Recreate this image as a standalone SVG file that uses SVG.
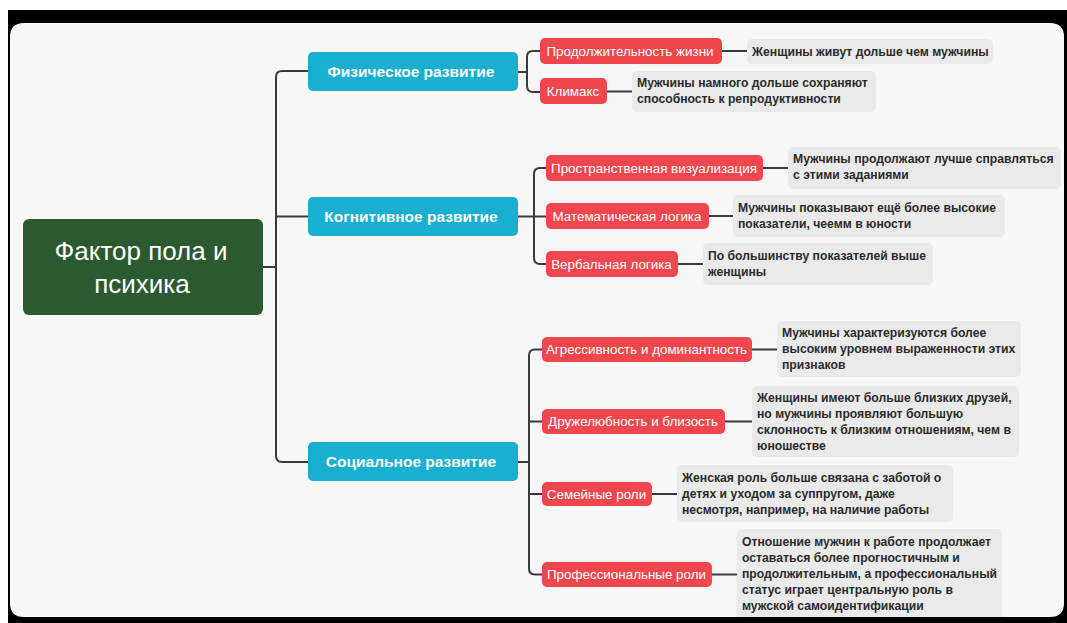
<svg xmlns="http://www.w3.org/2000/svg" width="1067" height="623" viewBox="0 0 1067 623">
<style>
.bg{fill:#f7f7f7}
.root rect{fill:#2b5a30}
.root text{fill:#ffffff;font-family:"Liberation Sans",Arial,sans-serif;font-size:26px;text-anchor:middle}
.l1 rect{fill:#18afd1}
.l1 text{fill:#ffffff;font-family:"Liberation Sans",Arial,sans-serif;font-size:15.5px;font-weight:bold;text-anchor:middle}
.l2 rect{fill:#f0474f}
.l2 text{fill:#ffffff;font-family:"Liberation Sans",Arial,sans-serif;font-size:13.4px;text-anchor:middle}
.note rect{fill:#eaeaea}
.note text{fill:#2a2a2a;font-family:"Liberation Sans",Arial,sans-serif;font-size:12.2px;font-weight:bold}
.conn path{fill:none;stroke:#3a3a3a;stroke-width:2;stroke-linejoin:round}
</style>
<rect x="0" y="0" width="1067" height="623" fill="#ffffff"/>
<rect class="bg" x="10" y="23" width="1054" height="594" rx="14"/>

<g id="connectors" class="conn">
<path d="M263 267 H276"/>
<path d="M308 71 H282 Q276 71 276 77 V456 Q276 462 282 462 H308"/>
<path d="M276 216.5 H308"/>
<path d="M518 72 H527"/>
<path d="M540 51 H533 Q527 51 527 57 V86 Q527 92 533 92 H540"/>
<path d="M518 216.5 H546"/>
<path d="M546 168 H540 Q534 168 534 174 V258 Q534 264 540 264 H546"/>
<path d="M518 462 H529"/>
<path d="M542 349.5 H535 Q529 349.5 529 355.5 V568.5 Q529 574.5 535 574.5 H542"/>
<path d="M529 421.5 H542"/>
<path d="M529 494 H542"/>
<path d="M722 51 H747"/>
<path d="M607 91.5 H632"/>
<path d="M763 168 H788"/>
<path d="M709 216 H733"/>
<path d="M678 264 H703"/>
<path d="M752 349.5 H777"/>
<path d="M725 421.5 H752"/>
<path d="M652 494 H677"/>
<path d="M712 574.5 H737"/>
</g>

<g id="root" class="root">
<rect x="23" y="219" width="240" height="96" rx="6"/>
<text x="141" y="260">Фактор пола и</text>
<text x="142" y="293">психика</text>
</g>

<g id="phys" class="l1"><rect x="308" y="52" width="210" height="39" rx="5"/><text x="411" y="77">Физическое развитие</text></g>
<g id="cogn" class="l1"><rect x="308" y="197" width="210" height="39" rx="5"/><text x="411" y="222">Когнитивное развитие</text></g>
<g id="soc" class="l1"><rect x="308" y="442" width="210" height="39" rx="5"/><text x="411" y="467">Социальное развитие</text></g>

<g id="r1" class="l2"><rect x="540" y="38" width="182" height="26" rx="5"/><text x="630" y="55.5">Продолжительность жизни</text></g>
<g id="r2" class="l2"><rect x="540" y="78" width="67" height="26" rx="5"/><text x="573" y="95.5">Климакс</text></g>
<g id="r3" class="l2"><rect x="546" y="155" width="217" height="26" rx="5"/><text x="654" y="172.5">Пространственная визуализация</text></g>
<g id="r4" class="l2"><rect x="546" y="203" width="163" height="26" rx="5"/><text x="627" y="220.5">Математическая логика</text></g>
<g id="r5" class="l2"><rect x="546" y="251" width="132" height="26" rx="5"/><text x="611.5" y="268.5">Вербальная логика</text></g>
<g id="r6" class="l2"><rect x="542" y="337" width="210" height="25" rx="5"/><text x="646.5" y="354">Агрессивность и доминантность</text></g>
<g id="r7" class="l2"><rect x="542" y="409" width="183" height="25" rx="5"/><text x="633" y="426">Дружелюбность и близость</text></g>
<g id="r8" class="l2"><rect x="542" y="482" width="110" height="24" rx="5"/><text x="596.5" y="498.5">Семейные роли</text></g>
<g id="r9" class="l2"><rect x="542" y="562" width="170" height="25" rx="5"/><text x="626.5" y="579">Профессиональные роли</text></g>

<g id="n1" class="note"><rect x="747" y="39" width="246" height="25" rx="5"/><text x="752" y="56">Женщины живут дольше чем мужчины</text></g>
<g id="n2" class="note"><rect x="632" y="71" width="244" height="41" rx="5"/><text x="637" y="87">Мужчины намного дольше сохраняют</text><text x="637" y="103">способность к репродуктивности</text></g>
<g id="n3" class="note"><rect x="788" y="147" width="273" height="42" rx="5"/><text x="793" y="163">Мужчины продолжают лучше справляться</text><text x="793" y="179">с этими заданиями</text></g>
<g id="n4" class="note"><rect x="733" y="195" width="272" height="42" rx="5"/><text x="738" y="212">Мужчины показывают ещё более высокие</text><text x="738" y="228">показатели, чеемм в юности</text></g>
<g id="n5" class="note"><rect x="703" y="243" width="230" height="42" rx="5"/><text x="708" y="260">По большинству показателей выше</text><text x="708" y="276">женщины</text></g>
<g id="n6" class="note"><rect x="777" y="321" width="244" height="56" rx="5"/><text x="782" y="337">Мужчины характеризуются более</text><text x="782" y="353">высоким уровнем выраженности этих</text><text x="782" y="369">признаков</text></g>
<g id="n7" class="note"><rect x="752" y="386" width="267" height="71" rx="5"/><text x="757" y="402">Женщины имеют больше близких друзей,</text><text x="757" y="418">но мужчины проявляют большую</text><text x="757" y="434">склонность к близким отношениям, чем в</text><text x="757" y="450">юношестве</text></g>
<g id="n8" class="note"><rect x="677" y="465" width="276" height="57" rx="5"/><text x="682" y="482">Женская роль больше связана с заботой о</text><text x="682" y="498">детях и уходом за суппругом, даже</text><text x="682" y="514">несмотря, например, на наличие работы</text></g>
<g id="n9" class="note"><rect x="737" y="529" width="265" height="100" rx="5"/><text x="742" y="546">Отношение мужчин к работе продолжает</text><text x="742" y="562">оставаться более прогностичным и</text><text x="742" y="578">продолжительным, а профессиональный</text><text x="742" y="594">статус играет центральную роль в</text><text x="742" y="610">мужской самоидентификации</text></g>

<path fill="#000000" fill-rule="evenodd" d="M8 10 H1067 V623 H8 Z M24 23 H1050 Q1064 23 1064 37 V603 Q1064 617 1050 617 H24 Q10 617 10 603 V37 Q10 23 24 23 Z"/>
</svg>
